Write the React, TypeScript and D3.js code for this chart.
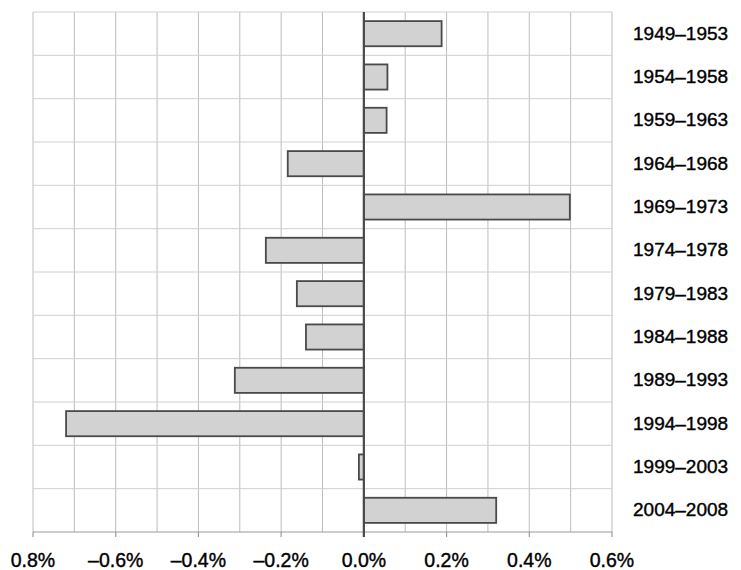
import { useEffect, useRef } from 'react';
import * as d3 from 'd3';

const periods = [
  '1949–1953',
  '1954–1958',
  '1959–1963',
  '1964–1968',
  '1969–1973',
  '1974–1978',
  '1979–1983',
  '1984–1988',
  '1989–1993',
  '1994–1998',
  '1999–2003',
  '2004–2008',
];
const values = [0.188, 0.057, 0.055, -0.184, 0.498, -0.237, -0.162, -0.14, -0.312, -0.72, -0.012, 0.32];
const majorTicks = [-0.8, -0.6, -0.4, -0.2, 0, 0.2, 0.4, 0.6];
const tickLabels = ['0.8%', '–0.6%', '–0.4%', '–0.2%', '0.0%', '0.2%', '0.4%', '0.6%'];
const minorTicks = d3.range(-8, 7).map((d) => d / 10);

export default function App() {
  const svgRef = useRef<SVGSVGElement | null>(null);

  useEffect(() => {
    if (!svgRef.current) return;
    const width = 741;
    const height = 570;
    const svg = d3.select(svgRef.current).attr('width', width).attr('height', height);
    svg.selectAll('*').remove();

    const top = 12;
    const bottom = 532;
    const x = d3.scaleLinear().domain([-0.8, 0.6]).range([33, 612]);
    const y = d3.scaleBand<string>().domain(periods).range([top, bottom]).paddingInner(0.42).paddingOuter(0.21);
    const rowStep = (bottom - top) / periods.length;

    svg.append('rect').attr('width', width).attr('height', height).attr('fill', '#fff');

    // grid
    const grid = svg.append('g');
    grid
      .selectAll('line.v')
      .data(minorTicks)
      .enter()
      .append('line')
      .attr('x1', (d) => x(d))
      .attr('x2', (d) => x(d))
      .attr('y1', top)
      .attr('y2', bottom)
      .attr('stroke', '#bdbdbd')
      .attr('stroke-width', 1);
    grid
      .selectAll('line.h')
      .data(d3.range(periods.length))
      .enter()
      .append('line')
      .attr('x1', x(-0.8))
      .attr('x2', x(0.6))
      .attr('y1', (i) => top + i * rowStep)
      .attr('y2', (i) => top + i * rowStep)
      .attr('stroke', '#d0d0d0')
      .attr('stroke-width', 1);

    // bottom axis
    svg
      .append('line')
      .attr('x1', x(-0.8))
      .attr('x2', x(0.6))
      .attr('y1', bottom)
      .attr('y2', bottom)
      .attr('stroke', '#999')
      .attr('stroke-width', 1.2);
    svg
      .append('g')
      .selectAll('line')
      .data(majorTicks)
      .enter()
      .append('line')
      .attr('x1', (d) => x(d))
      .attr('x2', (d) => x(d))
      .attr('y1', bottom)
      .attr('y2', bottom + 5)
      .attr('stroke', '#999')
      .attr('stroke-width', 1.2);

    // bars
    svg
      .append('g')
      .selectAll('rect')
      .data(values)
      .enter()
      .append('rect')
      .attr('x', (d) => x(Math.min(0, d)))
      .attr('y', (_, i) => y(periods[i])!)
      .attr('width', (d) => Math.abs(x(d) - x(0)))
      .attr('height', y.bandwidth())
      .attr('fill', '#d2d2d2')
      .attr('stroke', '#4a4a4a')
      .attr('stroke-width', 1.8);

    // zero line
    svg
      .append('line')
      .attr('x1', x(0))
      .attr('x2', x(0))
      .attr('y1', top)
      .attr('y2', bottom + 5)
      .attr('stroke', '#4a4a4a')
      .attr('stroke-width', 2.2);

    // tick labels
    svg
      .append('g')
      .selectAll('text')
      .data(majorTicks)
      .enter()
      .append('text')
      .attr('x', (d) => x(d))
      .attr('y', 567)
      .attr('text-anchor', 'middle')
      .attr('font-family', 'Liberation Sans, Arial, sans-serif')
      .attr('font-size', 19.5)
      .attr('fill', '#000')
      .attr('stroke', '#000')
      .attr('stroke-width', 0.4)
      .text((_, i) => tickLabels[i]);

    // category labels
    svg
      .append('g')
      .selectAll('text')
      .data(periods)
      .enter()
      .append('text')
      .attr('x', 633)
      .attr('y', (d) => y(d)! + y.bandwidth() / 2 + 6)
      .attr('font-family', 'Liberation Sans, Arial, sans-serif')
      .attr('font-size', 19)
      .attr('fill', '#000')
      .attr('stroke', '#000')
      .attr('stroke-width', 0.4)
      .text((d) => d);
  }, []);

  return <svg ref={svgRef} style={{ position: 'absolute', left: 0, top: 0, display: 'block' }} />;
}
